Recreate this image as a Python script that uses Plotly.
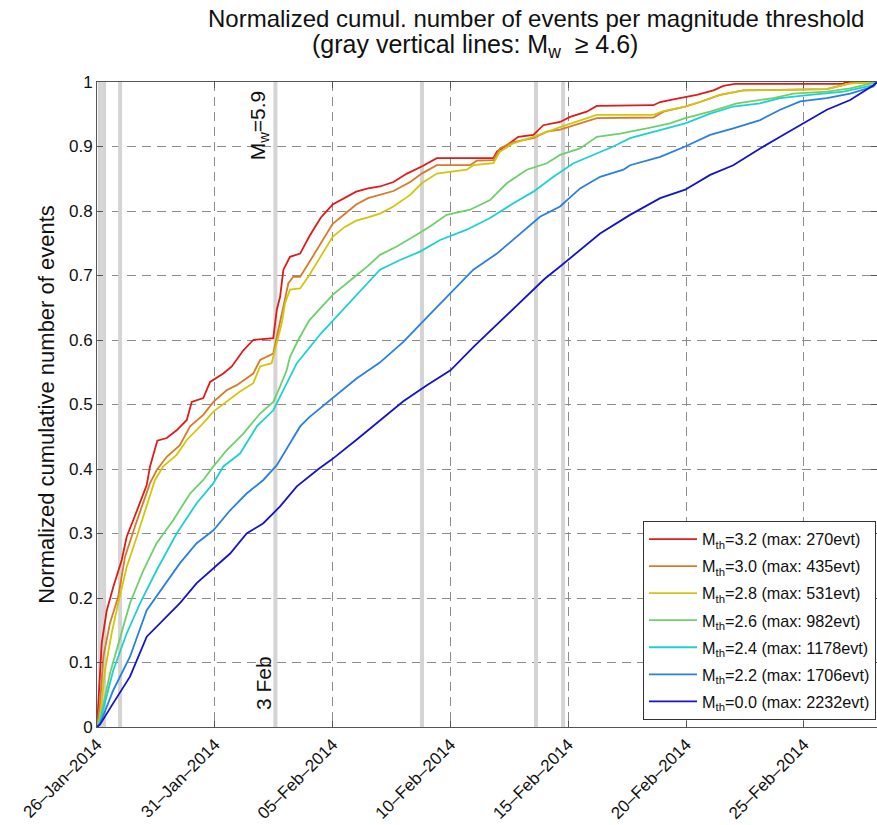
import datetime as dt
import plotly.graph_objects as go

START = dt.datetime(2014, 1, 26)

# ---- data: days since 26-Jan-2014 00:00 and normalized cumulative counts ----
red_days = [0, 0.2, 0.41, 0.69, 1.05, 1.26, 1.54, 1.90, 2.11, 2.25, 2.56, 2.96, 3.38, 3.81, 4.02, 4.51, 4.80, 5.36, 5.72, 6.21, 6.63, 7.48, 7.63, 7.77, 7.91, 8.19, 8.62, 9.0, 9.5, 10.0, 10.5, 11.0, 11.5, 12.01, 12.58, 13.15, 13.78, 14.42, 16.82, 16.97, 17.39, 17.88, 18.52, 18.94, 19.65, 20.08, 20.78, 21.21, 23.61, 23.9, 24.46, 25.45, 26.16, 26.58, 27.08, 31.68, 31.75, 33.1]
red_vals = [0, 0.13, 0.18, 0.217, 0.259, 0.295, 0.321, 0.357, 0.375, 0.404, 0.444, 0.448, 0.46, 0.476, 0.504, 0.51, 0.535, 0.548, 0.559, 0.584, 0.60, 0.603, 0.647, 0.667, 0.709, 0.729, 0.734, 0.76, 0.79, 0.81, 0.82, 0.83, 0.835, 0.838, 0.845, 0.858, 0.869, 0.882, 0.882, 0.892, 0.902, 0.915, 0.918, 0.933, 0.938, 0.946, 0.954, 0.963, 0.964, 0.969, 0.973, 0.98, 0.987, 0.994, 0.997, 0.997, 1.0, 1.0]

orange_days = [0, 0.13, 0.27, 0.55, 0.90, 1.19, 1.61, 1.97, 2.25, 2.53, 2.96, 3.52, 3.95, 4.51, 4.94, 5.50, 5.93, 6.63, 6.92, 7.48, 7.63, 7.91, 8.12, 8.33, 8.62, 9.0, 9.5, 10.0, 10.5, 11.0, 11.5, 12.01, 12.58, 13.29, 13.78, 14.42, 15.83, 16.12, 16.82, 17.1, 17.67, 18.52, 19.09, 19.65, 20.50, 21.21, 23.61, 24.04, 24.96, 25.59, 26.44, 27.43, 30.97, 31.68, 31.96, 33.1]
orange_vals = [0, 0.037, 0.109, 0.161, 0.202, 0.264, 0.311, 0.347, 0.378, 0.398, 0.419, 0.437, 0.466, 0.484, 0.504, 0.522, 0.53, 0.548, 0.569, 0.579, 0.605, 0.657, 0.688, 0.698, 0.698, 0.72, 0.75, 0.78, 0.795, 0.81, 0.82, 0.825, 0.831, 0.845, 0.858, 0.871, 0.871, 0.878, 0.879, 0.897, 0.907, 0.913, 0.923, 0.926, 0.936, 0.944, 0.945, 0.954, 0.962, 0.969, 0.98, 0.987, 0.989, 0.996, 0.998, 1.0]

yellow_days = [0, 0.13, 0.34, 0.62, 0.90, 1.26, 1.69, 2.11, 2.46, 2.81, 3.38, 3.81, 4.51, 4.94, 5.50, 6.07, 6.63, 6.92, 7.41, 7.63, 7.84, 7.98, 8.19, 8.62, 9.0, 9.5, 10.0, 10.5, 11.0, 11.5, 12.01, 12.58, 13.29, 13.78, 14.42, 15.69, 15.97, 16.82, 17.1, 17.67, 18.52, 19.65, 20.5, 21.21, 23.61, 24.04, 24.96, 25.59, 26.44, 27.43, 30.97, 31.68, 31.96, 33.1]
yellow_vals = [0, 0.016, 0.088, 0.145, 0.192, 0.248, 0.295, 0.342, 0.383, 0.404, 0.422, 0.445, 0.471, 0.489, 0.504, 0.52, 0.533, 0.559, 0.564, 0.595, 0.626, 0.657, 0.678, 0.68, 0.70, 0.73, 0.76, 0.775, 0.785, 0.79, 0.796, 0.807, 0.825, 0.843, 0.858, 0.864, 0.871, 0.874, 0.892, 0.905, 0.915, 0.93, 0.94, 0.949, 0.949, 0.955, 0.962, 0.969, 0.98, 0.987, 0.989, 0.996, 0.998, 1.0]

green_days = [0, 0.13, 0.55, 0.98, 1.40, 1.97, 2.53, 3.24, 3.95, 4.51, 4.94, 5.50, 6.21, 6.92, 7.48, 7.77, 8.05, 8.19, 8.54, 9.0, 10.0, 11.0, 11.5, 12.01, 12.72, 13.42, 14.13, 14.84, 15.83, 16.68, 17.39, 18.24, 19.09, 19.65, 20.50, 21.21, 22.2, 23.33, 24.32, 24.96, 26.02, 27.15, 28.70, 29.55, 30.97, 31.96, 32.95, 33.1]
green_vals = [0, 0.011, 0.083, 0.14, 0.192, 0.243, 0.285, 0.321, 0.362, 0.383, 0.404, 0.429, 0.455, 0.486, 0.504, 0.528, 0.553, 0.574, 0.60, 0.63, 0.67, 0.70, 0.715, 0.732, 0.745, 0.76, 0.776, 0.794, 0.802, 0.817, 0.843, 0.864, 0.874, 0.887, 0.897, 0.915, 0.920, 0.928, 0.936, 0.944, 0.954, 0.967, 0.975, 0.982, 0.985, 0.99, 0.998, 1.0]

cyan_days = [0, 0.13, 0.69, 1.26, 1.83, 2.53, 3.38, 4.23, 4.94, 5.36, 6.07, 6.78, 7.48, 7.91, 8.33, 8.48, 9.5, 10.5, 11.5, 12.01, 12.86, 13.71, 14.56, 15.69, 16.68, 17.67, 18.52, 19.37, 20.22, 21.07, 21.91, 22.62, 23.9, 24.96, 26.02, 27.0, 28.14, 28.99, 30.26, 31.68, 32.95, 33.1]
cyan_vals = [0, 0.008, 0.088, 0.145, 0.192, 0.243, 0.30, 0.347, 0.378, 0.404, 0.424, 0.466, 0.491, 0.522, 0.553, 0.564, 0.61, 0.65, 0.69, 0.709, 0.724, 0.737, 0.755, 0.771, 0.789, 0.812, 0.83, 0.853, 0.874, 0.887, 0.90, 0.913, 0.926, 0.936, 0.951, 0.962, 0.967, 0.975, 0.98, 0.985, 0.995, 1.0]

blue_days = [0, 0.13, 0.69, 1.40, 2.11, 2.81, 3.52, 4.23, 4.94, 5.65, 6.35, 7.06, 7.63, 8.19, 8.62, 9, 10, 11, 12, 13, 14, 15, 15.97, 16.97, 17.95, 18.80, 19.65, 20.5, 21.35, 22.34, 22.62, 23.9, 24.96, 26.02, 27.0, 28.14, 28.99, 29.84, 30.97, 31.96, 32.95, 33.1]
blue_vals = [0, 0.005, 0.057, 0.109, 0.181, 0.217, 0.254, 0.285, 0.305, 0.336, 0.362, 0.383, 0.406, 0.44, 0.466, 0.48, 0.51, 0.54, 0.565, 0.597, 0.635, 0.672, 0.709, 0.734, 0.765, 0.791, 0.807, 0.835, 0.853, 0.864, 0.871, 0.884, 0.90, 0.918, 0.928, 0.941, 0.957, 0.97, 0.975, 0.982, 0.993, 1.0]

navy_days = [0, 0.13, 0.69, 1.40, 2.11, 2.81, 3.52, 4.23, 4.94, 5.65, 6.35, 7.06, 7.77, 8.48, 9.4, 9.97, 11, 12, 13, 14, 15, 16, 17, 18, 19, 19.65, 20.5, 21.35, 22.62, 23.9, 24.96, 26.02, 27.0, 28.14, 28.99, 29.98, 30.97, 31.96, 32.95, 33.1]
navy_vals = [0, 0.004, 0.037, 0.078, 0.14, 0.166, 0.192, 0.223, 0.246, 0.269, 0.30, 0.316, 0.342, 0.373, 0.40, 0.415, 0.445, 0.475, 0.505, 0.53, 0.553, 0.59, 0.625, 0.66, 0.695, 0.714, 0.74, 0.765, 0.794, 0.82, 0.833, 0.856, 0.871, 0.897, 0.915, 0.936, 0.957, 0.972, 0.995, 1.0]

series_names = [
    "M<sub>th</sub>=3.2 (max: 270evt)",
    "M<sub>th</sub>=3.0 (max: 435evt)",
    "M<sub>th</sub>=2.8 (max: 531evt)",
    "M<sub>th</sub>=2.6 (max: 982evt)",
    "M<sub>th</sub>=2.4 (max: 1178evt)",
    "M<sub>th</sub>=2.2 (max: 1706evt)",
    "M<sub>th</sub>=0.0 (max: 2232evt)",
]
series_days = [red_days, orange_days, yellow_days, green_days, cyan_days, blue_days, navy_days]
series_vals = [red_vals, orange_vals, yellow_vals, green_vals, cyan_vals, blue_vals, navy_vals]
series_colors = ["#e01a1a", "#d9792a", "#d2c60c", "#6fcf6c", "#1fd0d0", "#2a7fe0", "#1414c8"]

# large events (Mw >= 4.6), days since 26-Jan-2014
big_event_days = [0.12, 0.30, 0.98, 7.57, 13.79, 18.63, 19.78]

x_tick_days = [0, 5, 10, 15, 20, 25, 30]
x_tick_labels = ["26–Jan–2014", "31–Jan–2014", "05–Feb–2014", "10–Feb–2014",
                 "15–Feb–2014", "20–Feb–2014", "25–Feb–2014"]
y_tick_vals = [0, 0.1, 0.2, 0.3, 0.4, 0.5, 0.6, 0.7, 0.8, 0.9, 1]
y_tick_labels = ["0", "0.1", "0.2", "0.3", "0.4", "0.5", "0.6", "0.7", "0.8", "0.9", "1"]
x_end_day = 33.1


def to_date(d):
    return START + dt.timedelta(days=d)


FONT = "Liberation Sans, Arial, Helvetica, sans-serif"

# plot area in pixels
L, R, T, B = 97, 877, 82, 727
PW, PH = R - L, B - T

fig = go.Figure()

for d in big_event_days:
    fig.add_shape(type="line", xref="x", yref="y", x0=to_date(d), x1=to_date(d), y0=0, y1=1,
                  line=dict(color="#d4d4d4", width=4), layer="between")

for i, (name, days, vals, col) in enumerate(zip(series_names, series_days, series_vals, series_colors)):
    fig.add_trace(go.Scatter(x=[to_date(d) for d in days], y=vals, mode="lines", name=name,
                             legendgroup=f"g{i}",
                             line=dict(color=col, width=1.8)))

NB = "\u00a0"
fig.update_layout(
    width=877, height=825,
    margin=dict(l=L, r=877 - R, t=T, b=825 - B, autoexpand=False),
    paper_bgcolor="white", plot_bgcolor="white",
    font=dict(family=FONT, color="#111", size=16),
    showlegend=True,
    legend=dict(x=(643 - L) / PW, y=(B - 720) / PH, xanchor="left", yanchor="bottom",
                bgcolor="white", bordercolor="#333", borderwidth=1,
                font=dict(size=16.2, family=FONT), itemwidth=48,
                traceorder="grouped", tracegroupgap=3),
    xaxis=dict(
        type="date", range=[to_date(0), to_date(x_end_day)], automargin=False,
        tickmode="array", tickvals=[to_date(d) for d in x_tick_days], ticktext=x_tick_labels,
        tickangle=-45, tickfont=dict(size=17, family=FONT),
        showgrid=True, gridcolor="#8c8c8c", griddash="9px,6px", gridwidth=1,
        showline=True, linecolor="#555", linewidth=1, mirror="ticks",
        ticks="inside", ticklen=6, tickcolor="#555", zeroline=False,
    ),
    yaxis=dict(
        range=[0, 1], tickmode="array", tickvals=y_tick_vals, ticktext=y_tick_labels,
        automargin=False, tickfont=dict(size=17, family=FONT),
        showgrid=True, gridcolor="#8c8c8c", griddash="9px,6px", gridwidth=1,
        showline=True, linecolor="#555", linewidth=1, mirror="ticks",
        ticks="inside", ticklen=6, tickcolor="#555", zeroline=False,
        title=dict(text="Normalized cumulative number of events", font=dict(size=22, family=FONT),
                   standoff=8),
    ),
    annotations=[
        dict(text="Normalized cumul. number of events per magnitude threshold", xref="paper", yref="paper",
             x=(536 - L) / PW, y=(B - 18) / PH, xanchor="center", yanchor="middle",
             showarrow=False, font=dict(size=24, family=FONT)),
        dict(text=f"(gray vertical lines: M<sub>w</sub>{NB}{NB}≥{NB}4.6)", xref="paper", yref="paper",
             x=(475 - L) / PW, y=(B - 46) / PH, xanchor="center", yanchor="middle",
             showarrow=False, font=dict(size=25, family=FONT)),
        dict(text="M<sub>w</sub>=5.9", xref="x", yref="y", x=to_date(6.88), y=0.933,
             textangle=-90, showarrow=False, font=dict(size=21, family=FONT)),
        dict(text="3 Feb", xref="x", yref="y", x=to_date(7.04), y=0.068,
             textangle=-90, showarrow=False, font=dict(size=21, family=FONT)),
    ],
)

fig.write_html("out.html", config={"displayModeBar": False},
               post_script="document.body.style.margin='0';document.body.style.overflow='hidden';")
